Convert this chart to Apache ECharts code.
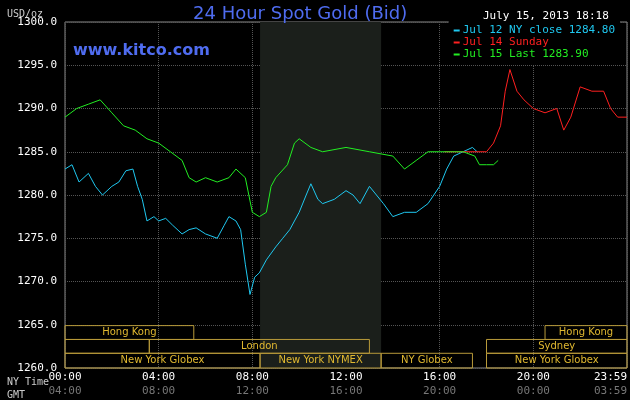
<!DOCTYPE html>
<html><head><meta charset="utf-8">
<script src="https://cdn.jsdelivr.net/npm/echarts@6/dist/echarts.min.js"></script>
<style>html,body{margin:0;background:#000}#c{width:630px;height:400px}</style>
</head><body><div id="c"></div>
<script>
const nyTicks = ['00:00','04:00','08:00','12:00','16:00','20:00','23:59'];
const gmtTicks = ['04:00','08:00','12:00','16:00','20:00','00:00','03:59'];
const jul12 = [[0,1283],[0.3,1283.5],[0.6,1281.5],[1,1282.5],[1.3,1281],[1.6,1280],[2,1281],[2.3,1281.5],[2.6,1282.8],[2.9,1283],[3.1,1281],[3.3,1279.5],[3.5,1277],[3.8,1277.5],[4,1277],[4.3,1277.3],[4.6,1276.5],[5,1275.5],[5.3,1276],[5.6,1276.2],[6,1275.5],[6.5,1275],[6.8,1276.5],[7,1277.5],[7.3,1277],[7.5,1276],[7.7,1272],[7.9,1268.5],[8.1,1270.5],[8.3,1271],[8.6,1272.5],[9,1274],[9.3,1275],[9.6,1276],[10,1278],[10.3,1280],[10.5,1281.3],[10.8,1279.5],[11,1279],[11.5,1279.5],[12,1280.5],[12.3,1280],[12.6,1279],[13,1281],[13.3,1280],[13.6,1279],[14,1277.5],[14.5,1278],[15,1278],[15.5,1279],[16,1281],[16.3,1283],[16.6,1284.5],[17,1285],[17.4,1285.5],[17.6,1285]];
const jul14 = [[16.2,1285],[18,1285],[18.3,1286],[18.6,1288],[18.8,1292],[19,1294.5],[19.3,1292],[19.6,1291],[20,1290],[20.5,1289.5],[21,1290],[21.3,1287.5],[21.6,1289],[22,1292.5],[22.5,1292],[23,1292],[23.3,1290],[23.6,1289],[24,1289]];
const jul15 = [[0,1289],[0.5,1290],[1,1290.5],[1.5,1291],[2,1289.5],[2.5,1288],[3,1287.5],[3.5,1286.5],[4,1286],[4.5,1285],[5,1284],[5.3,1282],[5.6,1281.5],[6,1282],[6.5,1281.5],[7,1282],[7.3,1283],[7.7,1282],[8,1278],[8.3,1277.5],[8.6,1278],[8.8,1281],[9,1282],[9.5,1283.5],[9.8,1286],[10,1286.5],[10.5,1285.5],[11,1285],[12,1285.5],[13,1285],[14,1284.5],[14.5,1283],[15,1284],[15.5,1285],[16,1285],[17,1285],[17.5,1284.5],[17.7,1283.5],[18,1283.5],[18.3,1283.5],[18.5,1284]];
const markets = [
 ['Hong Kong',0,5.5,1264.9,1263.3],['Hong Kong',20.5,24,1264.9,1263.3],
 ['',0,3.6,1263.3,1261.7],['London',3.6,13,1263.3,1261.7],['Sydney',18,24,1263.3,1261.7],
 ['New York Globex',0,8.33,1261.7,1260],['New York NYMEX',8.33,13.5,1261.7,1260],
 ['NY Globex',13.5,17.4,1261.7,1260],['New York Globex',18,24,1261.7,1260]];
const mono = 'DejaVu Sans Mono';
const chart = echarts.init(document.getElementById('c'));
const tickFmt = arr => v => { const i = Math.round(v/4); return arr[i] || ''; };
chart.setOption({
 backgroundColor:'#000', animation:false,
 grid:{left:65,right:0,top:22,bottom:32,show:true,borderColor:'#888',borderWidth:1},
 title:[{text:'24 Hour Spot Gold (Bid)',left:188,top:0,textStyle:{color:'#4f6cf0',fontSize:18,fontWeight:'normal',fontFamily:'DejaVu Sans'}},
  {text:'www.kitco.com',left:68,top:38,textStyle:{color:'#4f6cf0',fontSize:16,fontWeight:'bold',fontFamily:'DejaVu Sans'}},
  {text:'July 15, 2013 18:18',left:478,top:6,textStyle:{color:'#fff',fontSize:11,fontWeight:'normal',fontFamily:mono}},
  {text:'USD/oz',left:2,top:4,textStyle:{color:'#ccc',fontSize:10,fontWeight:'normal',fontFamily:mono}},
  {text:'NY Time',left:2,top:372,textStyle:{color:'#ccc',fontSize:10,fontWeight:'normal',fontFamily:mono}},
  {text:'GMT',left:2,top:385,textStyle:{color:'#ccc',fontSize:10,fontWeight:'normal',fontFamily:mono}}],
 legend:{right:10,top:20,orient:'vertical',itemGap:1,itemWidth:6,itemHeight:2,icon:'rect',backgroundColor:'#000',
  textStyle:{fontFamily:mono,fontSize:11,padding:[0,0,0,-2]},
  data:[{name:'Jul 12 NY close 1284.80',textStyle:{color:'#1fc8f0'}},{name:'Jul 14 Sunday',textStyle:{color:'#ff2020'}},{name:'Jul 15 Last 1283.90',textStyle:{color:'#22ee22'}}]},
 xAxis:[{type:'value',min:0,max:24,interval:4,
   axisLabel:{color:'#fff',fontFamily:mono,fontSize:11,formatter:tickFmt(nyTicks),margin:4,alignMaxLabel:'right'},
   axisLine:{show:false},axisTick:{show:false},splitLine:{lineStyle:{color:'#555',type:'dotted'}}},
  {type:'value',min:0,max:24,interval:4,position:'bottom',offset:14,
   axisLabel:{color:'#777',fontFamily:mono,fontSize:11,formatter:tickFmt(gmtTicks),margin:4,alignMaxLabel:'right'},
   axisLine:{show:false},axisTick:{show:false},splitLine:{show:false}}],
 yAxis:{type:'value',min:1260,max:1300,interval:5,
  axisLabel:{color:'#fff',fontFamily:mono,fontSize:11,formatter:v=>v.toFixed(1),margin:8},
  axisLine:{show:false},axisTick:{show:false},splitLine:{lineStyle:{color:'#555',type:'dotted'}}},
 series:[
  {type:'line',name:'shade',data:[],silent:true,
   markArea:{silent:true,itemStyle:{color:'#1b1f1b'},data:[[{xAxis:8.33,yAxis:1260},{xAxis:13.5,yAxis:1300}]]}},
  {type:'line',name:'markets',data:[],silent:true,
   markArea:{silent:true,itemStyle:{color:'rgba(0,0,0,0)',borderColor:'#b89a3a',borderWidth:1},
    label:{position:'inside',color:'#e0b830',fontFamily:'DejaVu Sans',fontSize:10},
    data:markets.map(m=>[{name:m[0],xAxis:m[1],yAxis:m[3]},{xAxis:m[2],yAxis:m[4]}])}},
  {type:'line',name:'Jul 12 NY close 1284.80',data:jul12,showSymbol:false,lineStyle:{color:'#1fc8f0',width:1},itemStyle:{color:'#1fc8f0'}},
  {type:'line',name:'Jul 14 Sunday',data:jul14,showSymbol:false,lineStyle:{color:'#ff2020',width:1},itemStyle:{color:'#ff2020'}},
  {type:'line',name:'Jul 15 Last 1283.90',data:jul15,showSymbol:false,lineStyle:{color:'#22ee22',width:1},itemStyle:{color:'#22ee22'}}
 ]
});
</script></body></html>
